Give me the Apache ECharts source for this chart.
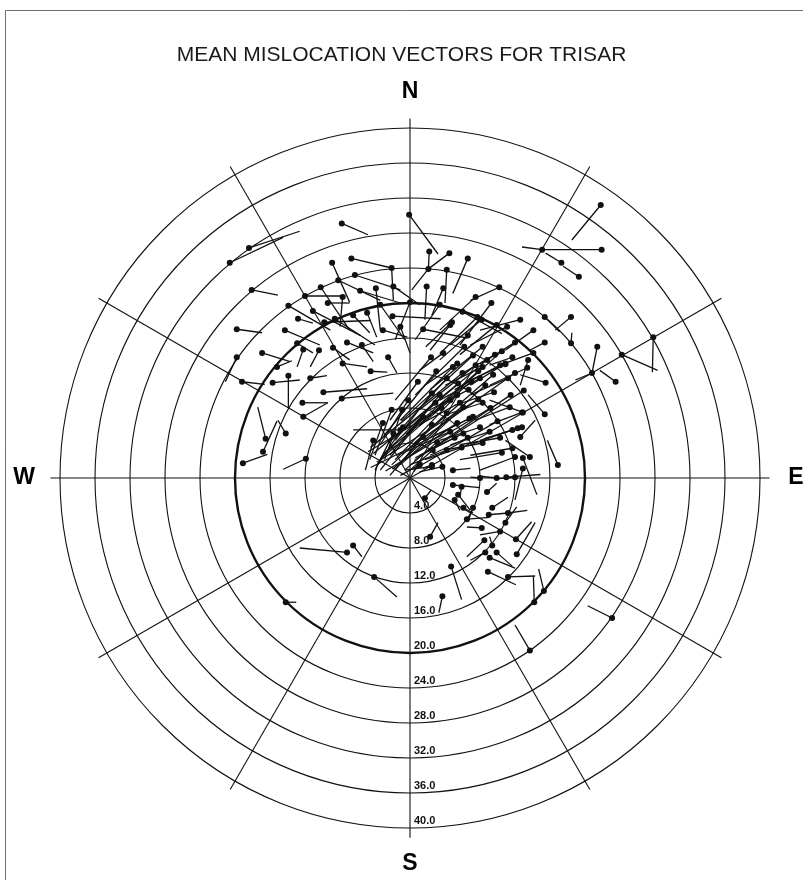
<!DOCTYPE html>
<html>
<head>
<meta charset="utf-8">
<title>Mean mislocation vectors for TRISAR</title>
<script src="https://cdn.jsdelivr.net/npm/echarts@6/dist/echarts.min.js"></script>
<style>
  html, body { margin: 0; padding: 0; background: #fff; }
  #chart { width: 803px; height: 880px; }
</style>
</head>
<body>
<div id="chart"></div>
<script>
// Distance rings (degrees) and their printed labels
const ringValues = [4, 8, 12, 16, 20, 24, 28, 32, 36, 40];
const ringLabels = ['4.0', '8.0', '12.0', '16.0', '20.0', '24.0', '28.0', '32.0', '36.0', '40.0'];
const boldRing = 20;

// Azimuth spokes (bearing, degrees clockwise from north)
const spokeBearings = [0, 30, 60, 90, 120, 150, 180, 210, 240, 270, 300, 330];
const spokeLength = 41.1;

// Compass letters
const compassNames = ['N', 'E', 'S', 'W'];
const compassBearings = [0, 90, 180, 270];
const compassDistance = 44.1;

// Mislocation vectors: [dotEast, dotNorth, tipEast, tipNorth] in degrees from the station
const outerVectors = [
  [-20.6, 24.6, -14.5, 27.5], [-18.4, 26.3, -12.6, 28.2], [-7.8, 29.1, -4.8, 27.8],
  [-18.1, 21.5, -15.1, 20.9], [-0.1, 30.1, 3.2, 25.6], [21.8, 31.2, 18.5, 27.2],
  [21.9, 26.1, 15.1, 26.1], [15.1, 26.1, 12.8, 26.4], [17.3, 24.6, 15.5, 25.7],
  [19.3, 23.0, 17.5, 24.2], [18.4, 18.4, 16.6, 16.9], [15.4, 18.4, 17.1, 16.7],
  [18.4, 15.4, 18.5, 16.6], [15.4, 15.5, 13.7, 14.6], [21.4, 15.0, 20.8, 12.0],
  [20.8, 12.0, 18.9, 11.2], [24.2, 14.1, 28.3, 12.3], [27.8, 16.1, 27.7, 12.1],
  [23.5, 11.0, 21.7, 12.3], [15.5, 10.9, 12.6, 11.8], [15.4, 7.3, 13.5, 9.5],
  [16.9, 1.5, 15.7, 4.3], [23.1, -16.0, 20.3, -14.6], [13.7, -19.7, 12.0, -16.8]
];

const southVectors = [
  [-14.2, -14.2, -13.0, -14.2], [-7.2, -8.5, -12.6, -8.0], [-6.5, -7.7, -5.5, -9.0],
  [-4.1, -11.3, -1.5, -13.6], [4.7, -10.1, 5.9, -13.9], [3.7, -13.5, 3.3, -15.4],
  [2.3, -6.7, 3.2, -5.1], [1.7, -2.3, 2.4, -1.4]
];

const southEastVectors = [
  [8.9, -10.7, 12.1, -12.2], [11.2, -11.3, 14.3, -11.2], [14.2, -14.2, 14.1, -11.2],
  [15.3, -12.9, 14.7, -10.4], [4.9, -0.8, 8.0, -1.1], [5.9, -1.0, 5.7, -2.2],
  [5.5, -1.9, 6.9, -3.7], [8.8, -1.6, 9.9, -0.6], [6.1, -3.4, 7.2, -4.0],
  [7.2, -3.4, 6.6, -5.0], [6.5, -4.7, 9.1, -4.5], [9.4, -3.4, 11.2, -2.2],
  [9.0, -4.2, 11.2, -4.0], [11.2, -4.0, 13.4, -3.7], [10.9, -5.1, 12.2, -3.3],
  [8.2, -5.7, 6.5, -5.6], [10.3, -6.1, 8.0, -6.5], [8.5, -7.1, 6.5, -9.0],
  [9.4, -7.7, 9.1, -6.7], [12.1, -7.0, 13.9, -5.0], [12.2, -8.7, 14.3, -5.1],
  [8.6, -8.5, 6.9, -9.4], [9.1, -9.1, 12.0, -10.3], [9.9, -8.5, 11.7, -10.1],
  [5.1, -2.5, 5.7, -3.7], [12.9, 2.3, 14.5, -1.9], [12.0, 2.4, 8.0, 0.9],
  [12.9, 1.1, 12.0, -2.5], [8.0, 0.0, 6.9, 0.1], [9.9, 0.0, 8.0, 0.2],
  [12.0, 0.1, 9.9, -0.1], [11.0, 0.1, 14.9, 0.4], [4.9, 0.9, 6.9, 1.1],
  [2.5, 1.5, 1.5, 1.1], [1.1, 1.6, 0.4, 0.7]
];

const westVectors = [
  [-19.2, 11.0, -16.6, 10.7], [-15.7, 10.9, -12.6, 11.2], [-13.9, 11.7, -13.9, 8.0],
  [-11.4, 11.4, -9.5, 11.7], [-9.9, 9.8, -4.9, 10.2], [-12.3, 8.6, -9.4, 8.6],
  [-7.8, 9.1, -1.9, 9.7], [-12.2, 7.0, -9.4, 8.6], [-14.2, 5.1, -15.1, 6.6],
  [-16.5, 4.5, -17.4, 8.1], [-16.8, 3.0, -15.2, 6.5], [-19.1, 1.7, -16.3, 2.7],
  [-11.9, 2.2, -14.5, 1.0], [-19.8, 13.8, -21.1, 11.0], [-16.9, 14.3, -13.7, 13.3],
  [-19.8, 17.0, -16.9, 16.6], [-15.2, 12.7, -13.5, 13.4]
];

const northArcVectors = [
  [-14.3, 16.9, -10.3, 15.2], [-13.9, 19.7, -9.1, 16.9], [-12.0, 20.8, -7.4, 20.8],
  [-10.2, 21.8, -6.9, 16.9], [-8.9, 24.6, -6.9, 20.1], [-6.7, 25.1, -2.1, 24.0],
  [-2.1, 24.0, -1.9, 20.3], [-6.3, 23.2, -1.1, 21.5], [-8.2, 22.6, -3.4, 20.3],
  [-5.7, 21.4, -1.1, 20.0], [-3.9, 21.7, -3.4, 16.9], [-1.9, 21.9, 1.1, 19.8],
  [2.2, 25.9, 2.1, 23.9], [4.5, 25.7, 2.1, 23.9], [6.6, 25.1, 4.9, 21.1],
  [2.1, 23.9, 0.2, 21.5], [1.9, 21.9, 1.7, 18.1], [3.8, 21.7, 2.5, 18.6],
  [4.2, 23.8, 4.0, 20.0], [-9.4, 20.0, -6.9, 20.0], [-11.1, 19.1, -5.7, 16.3],
  [-8.6, 18.2, -4.0, 15.2], [-3.4, 19.8, -0.6, 15.8], [0.0, 20.1, -1.7, 15.8],
  [3.4, 19.8, 0.6, 15.8], [-12.8, 18.2, -11.1, 17.7], [-7.7, 20.7, -8.0, 17.3],
  [-12.9, 15.4, -11.1, 14.3], [-12.2, 14.7, -12.9, 12.7], [-10.4, 14.6, -11.4, 12.7],
  [-8.8, 14.9, -6.9, 13.5], [-7.2, 15.5, -4.2, 14.3], [-5.5, 15.2, -4.2, 13.3],
  [-7.7, 13.1, -4.9, 12.7], [-4.5, 12.2, -2.6, 12.1], [-2.5, 13.8, -1.5, 12.0],
  [-4.9, 18.9, -3.8, 16.1], [-6.5, 18.6, -4.6, 16.6], [-3.1, 16.9, -0.3, 16.1],
  [-1.1, 17.3, 0.0, 14.3], [-9.8, 17.8, -4.5, 18.0], [-2.0, 18.5, 3.5, 18.2],
  [1.5, 17.0, 6.5, 16.0], [6.0, 19.0, 10.5, 16.5]
];

const northEastVectors = [
  [10.2, 21.8, 6.9, 20.3], [7.5, 20.7, 3.4, 16.9], [9.3, 20.0, 5.7, 15.2],
  [12.6, 18.1, 8.0, 16.9], [14.1, 16.9, 10.9, 14.6], [13.5, 13.5, 12.6, 10.6],
  [11.7, 13.8, 9.1, 12.9], [4.6, 17.5, 2.3, 14.6], [11.1, 17.3, 6.9, 15.2],
  [14.1, 14.3, 10.3, 12.9], [10.9, 13.0, 6.9, 11.2], [9.7, 14.1, 5.7, 11.8],
  [11.2, 11.4, 6.9, 9.5], [9.6, 9.8, 5.1, 8.3], [11.4, 8.1, 7.4, 6.6],
  [8.3, 8.6, 4.0, 7.2], [6.7, 10.1, 2.3, 7.8], [5.7, 8.6, 1.1, 6.1],
  [7.2, 7.0, 2.9, 4.9], [12.8, 7.5, 9.1, 6.1], [3.8, 14.3, 1.1, 12.3],
  [5.4, 13.1, 1.7, 10.6], [8.3, 12.7, 4.0, 10.6], [8.0, 11.4, 3.4, 8.9],
  [6.6, 16.3, 3.4, 13.5], [8.2, 18.1, 4.6, 15.2], [9.9, 17.5, 5.7, 14.1],
  [4.8, 17.8, 1.8, 15.0], [13.4, 12.6, 9.1, 10.6], [10.9, 13.1, 6.9, 10.6],
  [12.9, 7.5, 9.1, 8.9], [12.3, 5.7, 8.0, 4.3], [12.6, 4.7, 14.3, 6.6],
  [11.7, 3.4, 6.9, 2.6], [10.3, 4.6, 5.7, 3.8], [8.3, 4.0, 4.0, 3.2],
  [9.1, 5.3, 4.6, 3.8], [8.0, 5.8, 3.4, 4.3], [6.6, 4.6, 2.3, 2.6],
  [5.9, 3.5, 1.7, 2.1], [5.1, 4.6, 0.6, 2.3], [4.2, 3.2, 0.0, 1.5],
  [2.5, 1.3, -0.6, 0.9], [13.7, 2.4, 10.9, 4.3], [12.8, 5.8, 8.5, 4.5],
  [11.7, 5.5, 6.9, 3.8], [10.5, 2.9, 5.7, 2.1], [2.4, 13.8, -1.7, 8.9],
  [4.9, 12.7, -1.1, 6.6], [7.5, 12.9, 1.1, 7.8], [10.3, 12.9, 5.1, 10.1],
  [8.3, 15.0, 2.3, 10.1], [6.2, 15.0, 0.6, 9.5], [7.7, 18.4, 3.4, 14.2],
  [12.0, 15.5, 8.0, 13.0]
];

const fanVectors = [
  [0.9, 11.0, -2.3, 6.6], [2.5, 9.7, -1.7, 4.3], [3.4, 9.5, -2.3, 2.6],
  [4.2, 11.4, -1.1, 5.5], [5.4, 9.5, -1.7, 2.1], [6.1, 8.1, -1.1, 1.5],
  [-2.1, 7.8, -4.0, 2.6], [-0.9, 7.8, -2.9, 2.1], [-0.2, 8.9, -3.4, 3.8],
  [2.9, 8.6, -2.5, 3.2], [4.2, 7.4, -2.1, 1.5], [4.6, 8.9, -3.2, 2.3],
  [1.5, 7.0, -3.4, 0.9], [2.5, 6.1, -1.7, 0.9], [5.4, 6.3, -0.6, 2.1],
  [4.6, 5.3, -1.4, 2.6], [6.1, 5.1, 1.1, 2.6], [1.5, 4.7, -2.3, 0.3],
  [3.1, 4.1, -0.6, 0.9], [2.6, 3.2, 0.0, 0.9], [1.1, 1.5, -1.1, 0.3],
  [3.7, 1.3, 1.1, 0.7], [-1.9, 5.1, -4.0, 0.9], [-0.8, 5.8, -3.7, 1.5],
  [-3.1, 6.3, -4.6, 2.1], [-4.2, 4.3, -5.1, 0.9], [-1.1, 5.5, -6.5, 5.5],
  [7.0, 11.0, -3.0, 2.8], [8.6, 10.6, -2.0, 1.0], [6.0, 12.0, -4.5, 3.5],
  [9.5, 11.8, 0.5, 4.0], [7.8, 9.0, -3.8, 1.8], [3.0, 12.2, -3.0, 4.8],
  [10.5, 14.5, 1.0, 6.0], [12.0, 12.0, 0.0, 3.5], [8.8, 13.5, -2.5, 4.0],
  [11.5, 9.5, 0.5, 2.0], [7.2, 14.0, -1.0, 6.5], [13.0, 10.0, 2.0, 3.0],
  [5.5, 10.8, -4.2, 2.8], [9.2, 8.0, -2.8, 0.8], [6.8, 6.8, -4.5, 1.2],
  [10.0, 6.5, 0.8, 1.2], [3.6, 8.0, -4.8, 3.0], [7.8, 12.2, -0.5, 5.0]
];

const vectorGroups = [outerVectors, southVectors, southEastVectors, westVectors,
  northArcVectors, northEastVectors, fanVectors];

// east/north offsets -> [distance, bearing] for the polar system
function toPolar(east, north) {
  const r = Math.hypot(east, north);
  let az = Math.atan2(east, north) * 180 / Math.PI;
  if (az < 0) az += 360;
  return [r, az];
}

const vectorData = [];
vectorGroups.forEach(function (group) {
  group.forEach(function (v) {
    const d = toPolar(v[0], v[1]);
    const t = toPolar(v[2], v[3]);
    vectorData.push([d[0], d[1], t[0], t[1]]);
  });
});

const ink = '#111111';
const chart = echarts.init(document.getElementById('chart'), null, { renderer: 'canvas' });

chart.setOption({
  backgroundColor: '#ffffff',
  animation: false,
  title: {
    text: 'MEAN MISLOCATION VECTORS FOR TRISAR',
    left: 'center',
    top: 40,
    textStyle: { fontFamily: 'Liberation Sans, Arial, sans-serif', fontSize: 21, fontWeight: 'normal', color: '#1a1a1a' }
  },
  graphic: [{
    type: 'rect',
    shape: { x: 5.5, y: 10.5, width: 830, height: 900 },
    style: { fill: 'none', stroke: '#707070', lineWidth: 1 },
    silent: true
  }],
  polar: { center: [410, 478], radius: 350 },
  angleAxis: {
    type: 'value', min: 0, max: 360, interval: 30, startAngle: 90, clockwise: true,
    axisLine: { show: false }, axisTick: { show: false }, axisLabel: { show: false }, splitLine: { show: false }
  },
  radiusAxis: {
    type: 'value', min: 0, max: 40, interval: 4,
    axisLine: { show: false }, axisTick: { show: false }, axisLabel: { show: false }, splitLine: { show: false }
  },
  series: [
    {
      // distance rings
      type: 'custom', coordinateSystem: 'polar', z: 1, silent: true,
      data: ringValues.map(function (v) { return [v, 0]; }),
      renderItem: function (params, api) {
        const c = api.coord([0, 0]);
        const p = api.coord([api.value(0), 0]);
        const rr = Math.hypot(p[0] - c[0], p[1] - c[1]);
        const bold = api.value(0) === boldRing;
        return {
          type: 'circle',
          shape: { cx: c[0], cy: c[1], r: rr },
          style: { fill: 'none', stroke: ink, lineWidth: bold ? 2.4 : 1.1 }
        };
      }
    },
    {
      // azimuth spokes
      type: 'custom', coordinateSystem: 'polar', z: 1, silent: true,
      data: spokeBearings.map(function (b) { return [0, b, spokeLength, b]; }),
      renderItem: function (params, api) {
        const a = api.coord([api.value(0), api.value(1)]);
        const b = api.coord([api.value(2), api.value(3)]);
        return {
          type: 'line',
          shape: { x1: a[0], y1: a[1], x2: b[0], y2: b[1] },
          style: { stroke: ink, lineWidth: 1.1 }
        };
      }
    },
    {
      // ring labels along the south spoke
      type: 'custom', coordinateSystem: 'polar', z: 3, silent: true,
      data: ringValues.map(function (v) { return [v, 180]; }),
      renderItem: function (params, api) {
        const p = api.coord([api.value(0), api.value(1)]);
        return {
          type: 'text',
          x: p[0] + 4, y: p[1] - 2,
          style: {
            text: ringLabels[params.dataIndex],
            fontFamily: 'Liberation Sans, Arial, sans-serif', fontSize: 11, fontWeight: 'bold',
            fill: ink, align: 'left', verticalAlign: 'bottom'
          }
        };
      }
    },
    {
      // compass letters
      type: 'custom', coordinateSystem: 'polar', z: 3, silent: true,
      data: compassBearings.map(function (b) { return [compassDistance, b]; }),
      renderItem: function (params, api) {
        const p = api.coord([api.value(0), api.value(1)]);
        return {
          type: 'text',
          x: p[0], y: p[1],
          style: {
            text: compassNames[params.dataIndex],
            fontFamily: 'Liberation Sans, Arial, sans-serif', fontSize: 23, fontWeight: 'bold',
            fill: '#000', align: 'center', verticalAlign: 'middle'
          }
        };
      }
    },
    {
      // mislocation vectors: dot at the first end, line to the second
      type: 'custom', coordinateSystem: 'polar', z: 2, silent: true,
      data: vectorData,
      renderItem: function (params, api) {
        const a = api.coord([api.value(0), api.value(1)]);
        const b = api.coord([api.value(2), api.value(3)]);
        return {
          type: 'group',
          children: [
            { type: 'line', shape: { x1: a[0], y1: a[1], x2: b[0], y2: b[1] }, style: { stroke: ink, lineWidth: 1.3 } },
            { type: 'circle', shape: { cx: a[0], cy: a[1], r: 3 }, style: { fill: ink } }
          ]
        };
      }
    }
  ]
});
</script>
</body>
</html>
